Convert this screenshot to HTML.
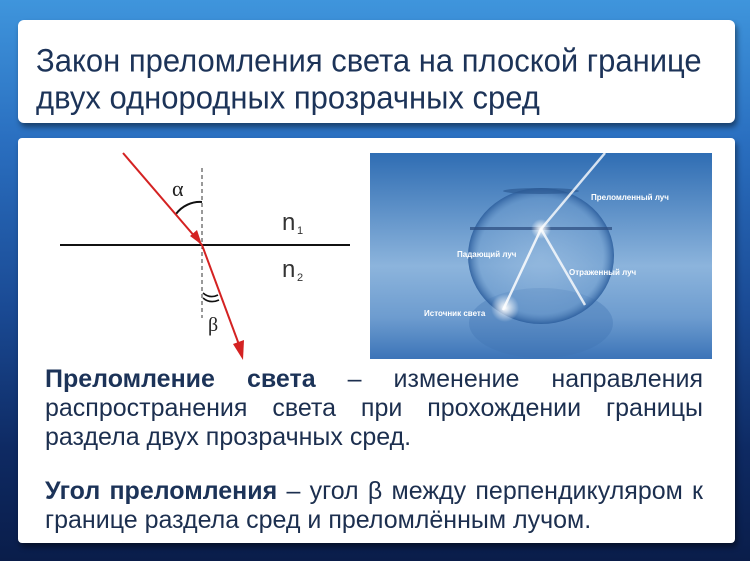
<!DOCTYPE html>
<html><head><meta charset="utf-8"><style>
body{margin:0;width:750px;height:561px;overflow:hidden;font-family:"Liberation Sans",sans-serif;
background:linear-gradient(180deg,#3f95dc 0%,#2a6fc0 25%,#1a4a94 55%,#0e2a63 80%,#0a1d4a 100%);position:relative}
.box{position:absolute;background:#fff;box-shadow:2px 4px 6px rgba(0,0,0,.45)}
.t{position:absolute;left:36px;color:#1c3358;font-size:31px;white-space:nowrap;transform-origin:0 0;transform:scaleY(1.05)}
.l{position:absolute;left:45px;width:658px;color:#1c2f4f;font-size:25px;white-space:nowrap;text-align:justify;text-align-last:justify}
.n{text-align:left;text-align-last:left}
b{color:#1c3358}
</style></head><body>
<div class="box" style="left:18px;top:20px;width:717px;height:103px;border-radius:6px"></div>
<div class="t" style="top:42px">Закон преломления света на плоской границе</div>
<div class="t" style="top:79px">двух однородных прозрачных сред</div>
<div class="box" style="left:18px;top:138px;width:717px;height:405px;border-radius:4px"></div>
<svg style="position:absolute;left:0;top:0" width="750" height="561">
<line x1="60" y1="245" x2="350" y2="245" stroke="#111" stroke-width="2"/>
<line x1="202" y1="168" x2="202" y2="318" stroke="#333" stroke-width="1" stroke-dasharray="4,3"/>
<path d="M176 214 A30 30 0 0 1 202 202" fill="none" stroke="#111" stroke-width="2"/>
<path d="M203 293 Q210 299 218 295 M203 298 Q210 304 219 300" fill="none" stroke="#111" stroke-width="1.6"/>
<line x1="123" y1="153" x2="202" y2="245" stroke="#d42222" stroke-width="2"/>
<polygon points="202,245 190,236 197,230" fill="#d42222"/>
<line x1="202" y1="245" x2="241" y2="350" stroke="#d42222" stroke-width="2"/>
<polygon points="243,360 233,344 244,340" fill="#d42222"/>
<text x="172" y="196" font-size="22" fill="#222" font-family="Liberation Serif">α</text>
<text x="208" y="331" font-size="20" fill="#222" font-family="Liberation Serif">β</text>
<text x="282" y="230" font-size="24" fill="#333">n</text><text x="297" y="234" font-size="11" fill="#333">1</text>
<text x="282" y="277" font-size="24" fill="#333">n</text><text x="297" y="281" font-size="11" fill="#333">2</text>
<defs>
<linearGradient id="bg" x1="0" y1="0" x2="0" y2="1"><stop offset="0" stop-color="#2f6db3"/><stop offset=".55" stop-color="#8cb4dc"/><stop offset=".8" stop-color="#6d9ccf"/><stop offset="1" stop-color="#3c74b8"/></linearGradient>
<radialGradient id="bowl" cx=".5" cy=".5" r=".5"><stop offset="0" stop-color="#9fc0e2" stop-opacity=".4"/><stop offset=".85" stop-color="#6f9dce" stop-opacity=".5"/><stop offset="1" stop-color="#2d5f9e" stop-opacity=".9"/></radialGradient>
<radialGradient id="gl"><stop offset="0" stop-color="#fff"/><stop offset="1" stop-color="#fff" stop-opacity="0"/></radialGradient>
</defs>
<rect x="370" y="153" width="342" height="206" fill="url(#bg)"/>
<ellipse cx="541" cy="323" rx="72" ry="35" fill="#3e73b2" opacity=".35"/>
<ellipse cx="541" cy="256" rx="73" ry="68" fill="url(#bowl)"/>
<ellipse cx="541" cy="191" rx="38" ry="3" fill="#2c5a93" opacity=".7"/>
<rect x="470" y="227" width="142" height="3" fill="#2d4f82" opacity=".75"/>
<line x1="503" y1="310" x2="541" y2="229" stroke="#fff" stroke-width="2.5" opacity=".85"/>
<line x1="541" y1="229" x2="585" y2="305" stroke="#fff" stroke-width="2.5" opacity=".8"/>
<line x1="541" y1="229" x2="605" y2="153" stroke="#fff" stroke-width="2.5" opacity=".8"/>
<circle cx="541" cy="229" r="10" fill="url(#gl)"/>
<circle cx="505" cy="308" r="14" fill="url(#gl)"/>
<g font-size="8" font-weight="bold" fill="#fff">
<text x="591" y="200">Преломленный луч</text>
<text x="457" y="257">Падающий луч</text>
<text x="569" y="275">Отраженный луч</text>
<text x="424" y="316">Источник света</text>
</g>
</svg>
<div class="l" style="top:365px"><b>Преломление света</b> – изменение направления</div>
<div class="l" style="top:394px">распространения света при прохождении границы</div>
<div class="l n" style="top:423px">раздела двух прозрачных сред.</div>
<div class="l" style="top:477px"><b>Угол преломления</b> – угол β между перпендикуляром к</div>
<div class="l n" style="top:506px">границе раздела сред и преломлённым лучом.</div>
</body></html>
